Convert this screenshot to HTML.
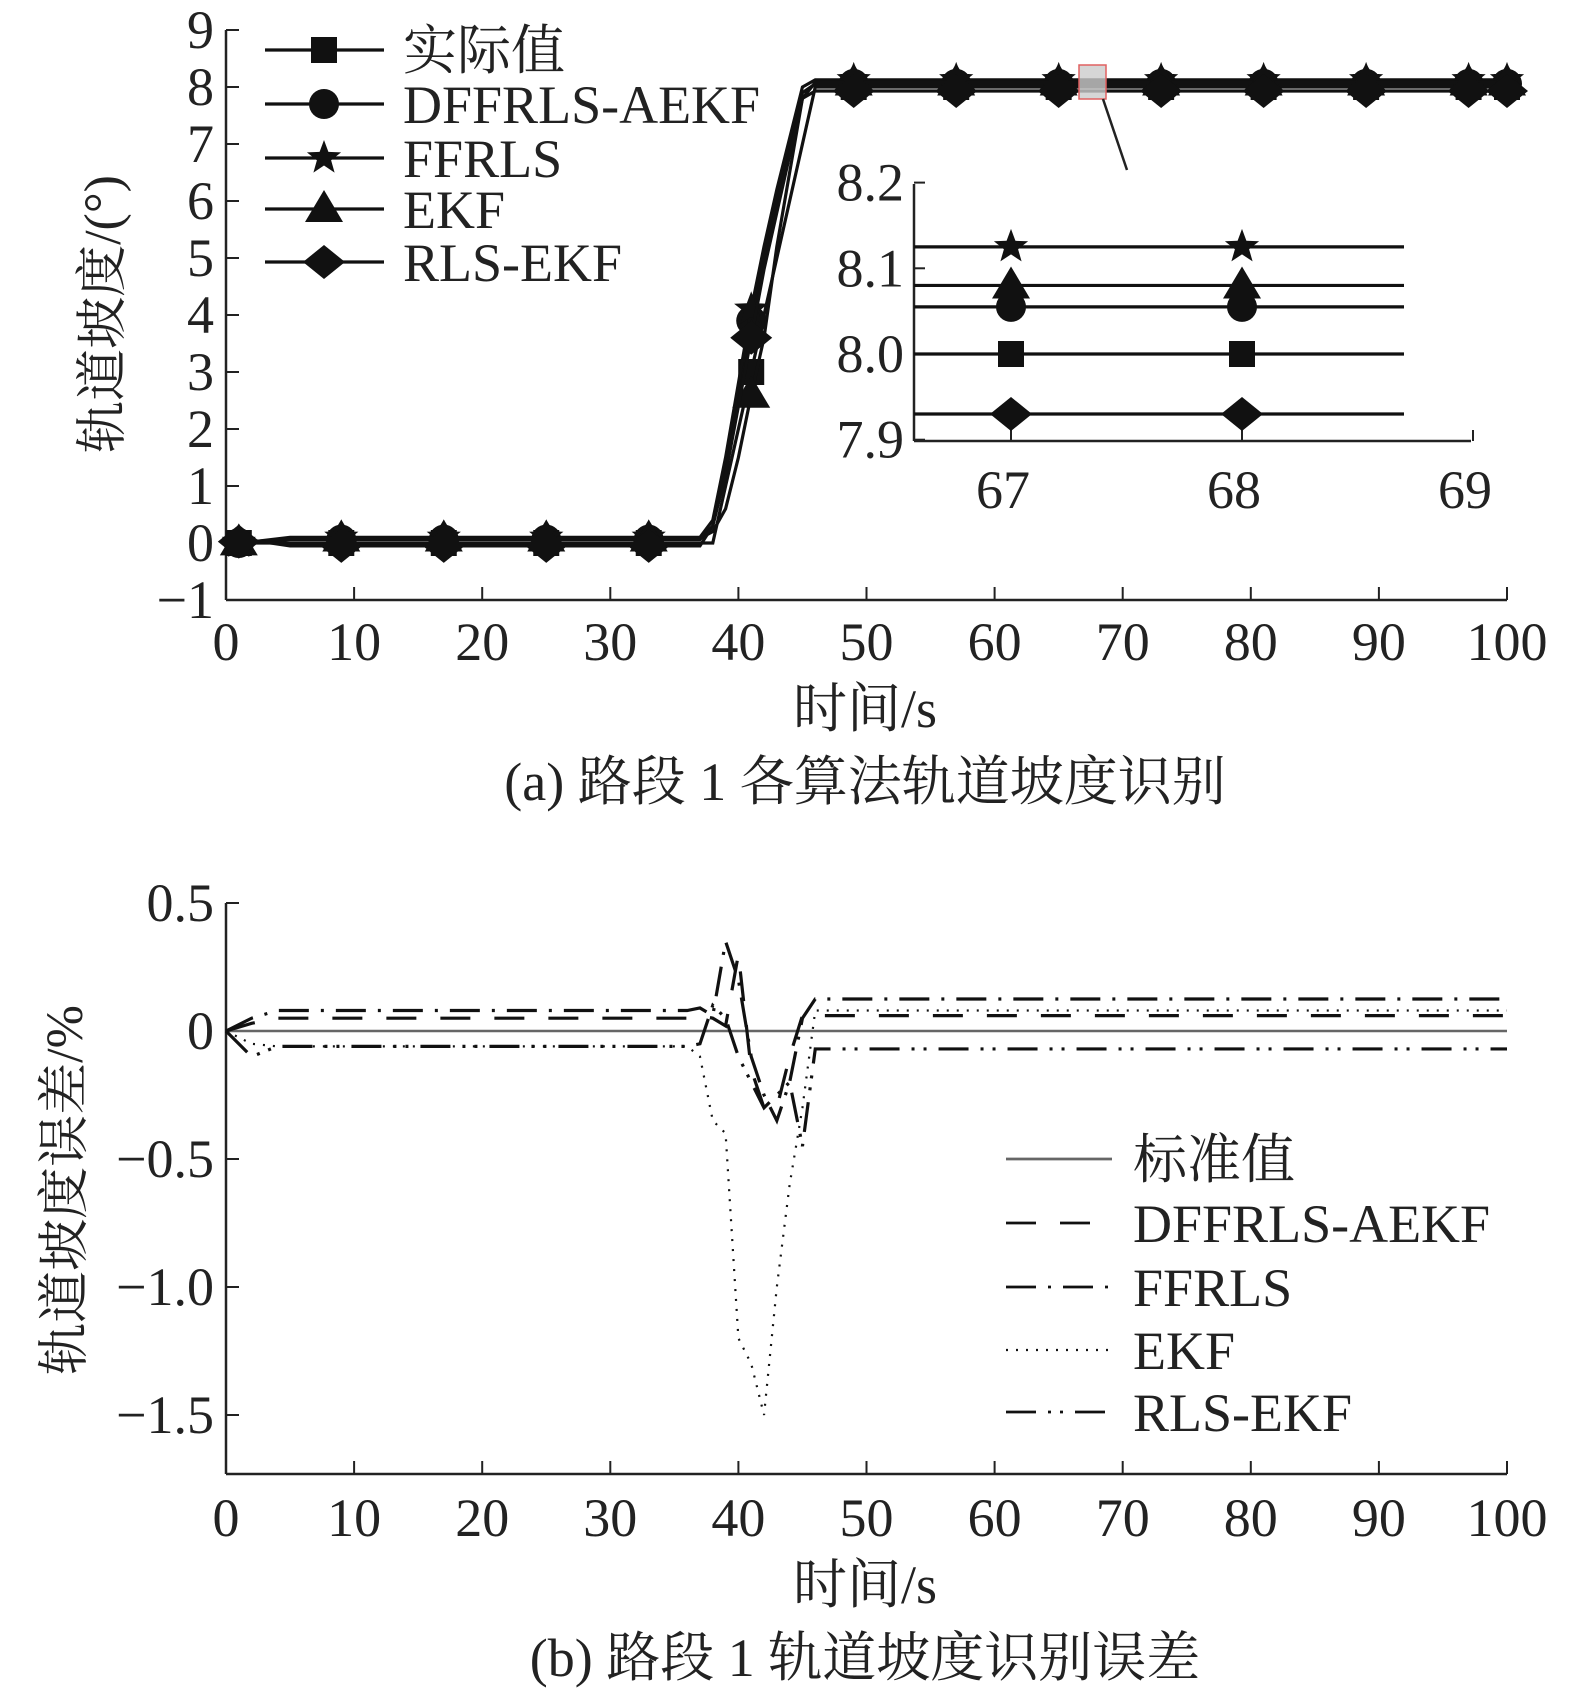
<!DOCTYPE html>
<html><head><meta charset="utf-8">
<style>
html,body{margin:0;padding:0;background:#fff;}
svg{display:block;font-family:"Liberation Serif","Noto Serif CJK SC","Noto Sans CJK SC",serif;}
</style></head>
<body>
<svg id="chart" width="1575" height="1695" viewBox="0 0 1575 1695" xmlns="http://www.w3.org/2000/svg"></svg>
<script>
// ---- data: top chart (grade) ----
const tA = [0,2,5,37,38,39,40,41,42,43,44,45,46,50,100];
const actual  = [0,0,0,0,0,1,2,3,4,5,6,7,8,8,8];
const dffrls  = [0,0,0.06,0.06,0.3,1.3,2.6,3.9,5.0,6.0,7.0,7.9,8.055,8.055,8.055];
const ffrls   = [0,0.02,0.1,0.1,0.4,1.5,2.8,4.1,5.2,6.2,7.1,8.0,8.125,8.125,8.125];
const ekf     = [0,0.02,0.08,0.08,0.2,0.6,1.5,2.6,3.6,5.2,6.5,7.8,8.08,8.08,8.08];
const rlsekf  = [0,0.05,-0.05,-0.05,0.3,1.2,2.4,3.6,4.8,5.8,6.8,7.8,7.93,7.93,7.93];
const markerT = [1,9,17,25,33,41,49,57,65,73,81,89,97,100];
const topYTicks = [-1,0,1,2,3,4,5,6,7,8,9];
const xTicks = [0,10,20,30,40,50,60,70,80,90,100];
// inset
const insetVals = [8.0,8.055,8.125,8.08,7.93];
const insetYTicks = [7.9,8.0,8.1,8.2];
const insetYLabels = ["7.9","8.0","8.1","8.2"];
const insetXTicks = [67,68,69];
const insetMarkerT = [67,68];
// ---- data: bottom chart (error) ----
const tB = [0,2,4,36,37,38,39,40,41,42,43,44,45,46,47,100];
const errDff = [0,0.03,0.05,0.05,0.06,0.05,0.02,0.3,-0.15,-0.3,-0.3,-0.1,0.06,0.06,0.06,0.06];
const errFf  = [0,0.05,0.08,0.08,0.09,0.06,0.35,0.2,-0.1,-0.25,-0.35,-0.2,0.05,0.125,0.125,0.125];
const errEkf = [0,-0.05,-0.06,-0.06,-0.1,-0.35,-0.4,-1.2,-1.3,-1.5,-1.0,-0.6,-0.3,0.08,0.08,0.08];
const errRls = [0,-0.1,-0.06,-0.06,-0.05,0.1,0.05,-0.1,-0.2,-0.3,-0.25,-0.2,-0.45,-0.07,-0.07,-0.07];
const botYTicks = [-1.5,-1.0,-0.5,0,0.5];
const botYLabels = ["\u22121.5","\u22121.0","\u22120.5","0","0.5"];

const svg = document.getElementById('chart');
const NS = 'http://www.w3.org/2000/svg';
function el(tag, attrs, parent){const e=document.createElementNS(NS,tag);for(const k in attrs)e.setAttribute(k,attrs[k]);(parent||svg).appendChild(e);return e;}
function txt(s,x,y,size,anchor,parent){const t=el('text',{x:x,y:y,'font-size':size,'text-anchor':anchor||'middle',fill:'#222'},parent);t.textContent=s;return t;}

const FS=54;
const X0=226,X1=1507;
const TY0=30,TY1=600; // 9 and -1
const xs = v => X0 + (X1-X0)*v/100;
const ysA = v => TY1 - (TY1-TY0)*(v+1)/10;
const BY0=1031, BPER=256; // y of 0, pixels per 1.0
const ysB = v => BY0 - BPER*v;
const BTOP=903, BBOT=1474;
const IX0=914, IX1=1471, IY0=184, IY1=441;
const ixs = v => 1011 + 231*(v-67);
const iys = v => 354 - 857*(v-8.0);

function marker(type,x,y,g){
  if(type==='square') el('rect',{x:x-13,y:y-13,width:26,height:26,fill:'#111'},g);
  else if(type==='circle') el('circle',{cx:x,cy:y,r:15,fill:'#111'},g);
  else if(type==='triangle') el('polygon',{points:`${x},${y-19} ${x+19},${y+13} ${x-19},${y+13}`,fill:'#111'},g);
  else if(type==='diamond') el('polygon',{points:`${x},${y-17} ${x+21},${y} ${x},${y+17} ${x-21},${y}`,fill:'#111'},g);
  else { let p=[];for(let i=0;i<10;i++){const r=i%2?7.5:18;const a=-Math.PI/2+i*Math.PI/5;p.push((x+r*Math.cos(a)).toFixed(1)+','+(y+r*Math.sin(a)).toFixed(1));} el('polygon',{points:p.join(' '),fill:'#111'},g);}
}
function interp(ts,vs,t){for(let i=0;i<ts.length-1;i++){if(t>=ts[i]&&t<=ts[i+1]){return vs[i]+(vs[i+1]-vs[i])*(t-ts[i])/(ts[i+1]-ts[i]);}}return vs[vs.length-1];}

// ===== TOP CHART =====
const topG = el('g',{});


el('line',{x1:X0,y1:TY0,x2:X0,y2:TY1,stroke:'#222','stroke-width':2.5},topG);
el('line',{x1:X0,y1:TY1,x2:X1,y2:TY1,stroke:'#222','stroke-width':2.5},topG);
topYTicks.forEach(v=>{el('line',{x1:X0,y1:ysA(v),x2:X0+13,y2:ysA(v),stroke:'#222','stroke-width':2},topG);
  const t=txt(v<0?'\u2212'+(-v):String(v),X0-12,ysA(v)+18,FS,'end',topG);
  
  });
xTicks.forEach(v=>{el('line',{x1:xs(v),y1:TY1,x2:xs(v),y2:TY1-13,stroke:'#222','stroke-width':2},topG);
  const t=txt(String(v),xs(v),660,FS,'middle',topG);
  
  });
const seriesA=[[actual,'square','actual'],[dffrls,'circle','dffrls-aekf'],[ffrls,'star','ffrls'],[ekf,'triangle','ekf'],[rlsekf,'diamond','rls-ekf']];
seriesA.forEach(([vals,mk,nm])=>{
  const g=el('g',{},topG);
  
  
  el('polyline',{points:tA.map((t,i)=>xs(t)+','+ysA(vals[i])).join(' '),fill:'none',stroke:'#111','stroke-width':3.2},g);
  markerT.forEach(t=>marker(mk,xs(t),ysA(interp(tA,vals,t)),g));
});
const zb=el('rect',{x:1079,y:65,width:27,height:34,fill:'#ccc','fill-opacity':0.8,stroke:'#e06060','stroke-width':1.5},topG);


el('line',{x1:1103,y1:99,x2:1127,y2:170,stroke:'#222','stroke-width':2.5},topG);
const ins=el('g',{},topG);


el('rect',{x:IX0,y:IY0,width:IX1-IX0,height:IY1-IY0,fill:'#fff'},ins);
el('line',{x1:IX0,y1:IY0,x2:IX0,y2:IY1,stroke:'#222','stroke-width':2.5},ins);
el('line',{x1:IX0,y1:IY1,x2:IX1,y2:IY1,stroke:'#222','stroke-width':2.5},ins);
insetYTicks.forEach((v,i)=>{el('line',{x1:IX0,y1:iys(v),x2:IX0+11,y2:iys(v),stroke:'#222','stroke-width':2},ins);
  const t=txt(insetYLabels[i],IX0-10,iys(v)+18,FS,'end',ins);
  
  });
insetXTicks.forEach(v=>{el('line',{x1:ixs(v),y1:IY1,x2:ixs(v),y2:IY1-11,stroke:'#222','stroke-width':2},ins);
  const t=txt(String(v),ixs(v)-8,508,FS,'middle',ins);
  
  });
seriesA.forEach(([vals,mk,nm],i)=>{
  const y=iys(insetVals[i]);
  el('line',{x1:IX0,y1:y,x2:1404,y2:y,stroke:'#111','stroke-width':3.2},ins);
  insetMarkerT.forEach(t=>marker(mk,ixs(t),y,ins));
});
const legA=[['实际值','square'],['DFFRLS-AEKF','circle'],['FFRLS','star'],['EKF','triangle'],['RLS-EKF','diamond']];
const legAY=[50,104,158,209,262];
legA.forEach(([lbl,mk],i)=>{
  const g=el('g',{},topG);
  
  
  el('line',{x1:265,y1:legAY[i],x2:384,y2:legAY[i],stroke:'#111','stroke-width':3.2},g);
  marker(mk,324,legAY[i],g);
  txt(lbl,403,legAY[i]+19,FS,'start',g);
});
const t1=txt('轨道坡度/(°)',0,0,52,'middle',topG);
t1.setAttribute('transform','translate(120,314) rotate(-90)');


const t2=txt('时间/s',865,727,FS,'middle',topG);


const t3=txt('(a) 路段 1 各算法轨道坡度识别',865,800,FS,'middle',topG);



// ===== BOTTOM CHART =====
const botG=el('g',{});


el('line',{x1:X0,y1:BTOP,x2:X0,y2:BBOT,stroke:'#222','stroke-width':2.5},botG);
el('line',{x1:X0,y1:BBOT,x2:X1,y2:BBOT,stroke:'#222','stroke-width':2.5},botG);
botYTicks.forEach((v,i)=>{el('line',{x1:X0,y1:ysB(v),x2:X0+13,y2:ysB(v),stroke:'#222','stroke-width':2},botG);
  const t=txt(botYLabels[i],X0-12,ysB(v)+18,FS,'end',botG);
  
  });
xTicks.forEach(v=>{el('line',{x1:xs(v),y1:BBOT,x2:xs(v),y2:BBOT-13,stroke:'#222','stroke-width':2},botG);
  const t=txt(String(v),xs(v),1536,FS,'middle',botG);
  
  });
const base=el('line',{x1:X0,y1:ysB(0),x2:X1,y2:ysB(0),stroke:'#666','stroke-width':2.5},botG);


const seriesB=[[errDff,'30 24','dffrls-aekf'],[errFf,'30 12 3 12','ffrls'],[errEkf,'2 8','ekf'],[errRls,'30 12 3 9 3 12','rls-ekf']];
seriesB.forEach(([vals,da,nm])=>{
  const p=el('polyline',{points:tB.map((t,i)=>xs(t)+','+ysB(vals[i])).join(' '),fill:'none',stroke:'#111','stroke-width':da==='2 8'?2.2:3.2,'stroke-dasharray':da},botG);
  
  
});
const legB=[['标准值',null],['DFFRLS-AEKF','30 24'],['FFRLS','30 12 3 12'],['EKF','2 8'],['RLS-EKF','30 12 3 9 3 12']];
const legBY=[1159,1223,1287,1350,1412];
legB.forEach(([lbl,da],i)=>{
  const g=el('g',{},botG);
  
  
  const a={x1:1006,y1:legBY[i],x2:1112,y2:legBY[i],stroke:da?'#111':'#666','stroke-width':da==='2 8'?2.2:2.7};
  if(da)a['stroke-dasharray']=da;
  el('line',a,g);
  txt(lbl,1133,legBY[i]+19,FS,'start',g);
});
const b1=txt('轨道坡度误差/%',0,0,52,'middle',botG);
b1.setAttribute('transform','translate(82,1190) rotate(-90)');


const b2=txt('时间/s',865,1603,FS,'middle',botG);


const b3=txt('(b) 路段 1 轨道坡度识别误差',865,1676,FS,'middle',botG);


</script>
</body></html>
